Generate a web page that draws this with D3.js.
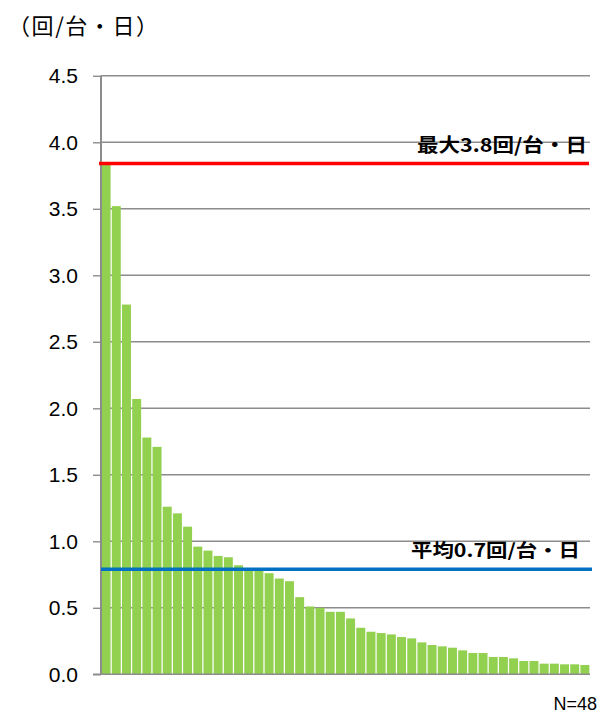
<!DOCTYPE html>
<html><head><meta charset="utf-8">
<script src="https://cdn.jsdelivr.net/npm/d3@7"></script>
<style>html,body{margin:0;padding:0;background:#fff;}svg{display:block;}</style>
</head><body>
<svg id="c" width="601" height="714"></svg>
<script>
const unitLabel = "（回/台・日）";
const yTicks = [0, 0.5, 1.0, 1.5, 2.0, 2.5, 3.0, 3.5, 4.0, 4.5];
const values = [3.83, 3.52, 2.78, 2.07, 1.78, 1.71, 1.26, 1.21, 1.11, 0.96, 0.93, 0.89, 0.88, 0.82, 0.79, 0.78, 0.76, 0.72, 0.70, 0.58, 0.51, 0.50, 0.47, 0.47, 0.42, 0.35, 0.32, 0.31, 0.30, 0.28, 0.27, 0.24, 0.22, 0.21, 0.20, 0.18, 0.16, 0.16, 0.13, 0.13, 0.12, 0.10, 0.10, 0.08, 0.08, 0.075, 0.075, 0.07];
const categories = values.map((d, i) => i + 1);
const maxValue = 3.84, maxLabel = "最大3.8回/台・日";
const avgValue = 0.79, avgLabel = "平均0.7回/台・日";
const nLabel = "N=48";

const svg = d3.select("#c");
const x = d3.scaleBand().domain(categories).range([101, 590]).paddingInner(0.12).paddingOuter(0.06);
const y = d3.scaleLinear().domain([0, 4.5]).range([674.3, 75.8]);

// gridlines
svg.append("g").selectAll("line").data(yTicks.filter(d => d > 0)).join("line")
  .attr("x1", 101).attr("x2", 590)
  .attr("y1", d => y(d)).attr("y2", d => y(d))
  .attr("stroke", "#8c8c8c").attr("stroke-width", 1.4);

// bars
svg.append("g").selectAll("rect").data(values).join("rect")
  .attr("x", (d, i) => x(categories[i]))
  .attr("width", x.bandwidth())
  .attr("y", d => y(d))
  .attr("height", d => y(0) - y(d))
  .attr("fill", "#92D050");

// axis
const axis = d3.axisLeft(y).tickValues(yTicks).tickFormat(d3.format(".1f")).tickSize(8).tickPadding(15);
const ag = svg.append("g").attr("transform", "translate(101,0)").call(axis);
ag.select(".domain").attr("stroke", "#8c8c8c").attr("stroke-width", 2).attr("d", `M0,${y(4.5)}V${y(0)}`);
ag.selectAll(".tick line").attr("stroke", "#8c8c8c").attr("stroke-width", 1.4);
ag.selectAll(".tick text").attr("font-family", "Liberation Sans, Arial, sans-serif").attr("font-size", 21).attr("fill", "#000");
// baseline
svg.append("line").attr("x1", 93).attr("x2", 590).attr("y1", y(0)).attr("y2", y(0)).attr("stroke", "#8c8c8c").attr("stroke-width", 1.4);

// reference lines
svg.append("line").attr("x1", 99).attr("x2", 589).attr("y1", y(maxValue)).attr("y2", y(maxValue))
  .attr("stroke", "#ff0000").attr("stroke-width", 3.5);
svg.append("line").attr("x1", 101).attr("x2", 592).attr("y1", y(avgValue)).attr("y2", y(avgValue))
  .attr("stroke", "#0070c0").attr("stroke-width", 3.5);

const cjk = "'Noto Sans CJK JP', sans-serif";
svg.append("text").attr("x", 587).attr("y", 152).attr("text-anchor", "end")
  .attr("font-family", cjk).attr("font-weight", "bold").attr("font-size", 19)
  .attr("textLength", 170).attr("lengthAdjust", "spacingAndGlyphs").text(maxLabel);
svg.append("text").attr("x", 580).attr("y", 557).attr("text-anchor", "end")
  .attr("font-family", cjk).attr("font-weight", "bold").attr("font-size", 18)
  .attr("textLength", 169).attr("lengthAdjust", "spacingAndGlyphs").text(avgLabel);

svg.append("text").attr("x", 8).attr("y", 34)
  .attr("font-family", cjk).attr("font-size", 22).attr("fill", "#000")
  .attr("textLength", 150).attr("lengthAdjust", "spacing").text(unitLabel);

svg.append("text").attr("x", 597).attr("y", 710).attr("text-anchor", "end")
  .attr("font-family", "Liberation Sans, Arial, sans-serif").attr("font-size", 18).text(nLabel);
</script>
</body></html>
